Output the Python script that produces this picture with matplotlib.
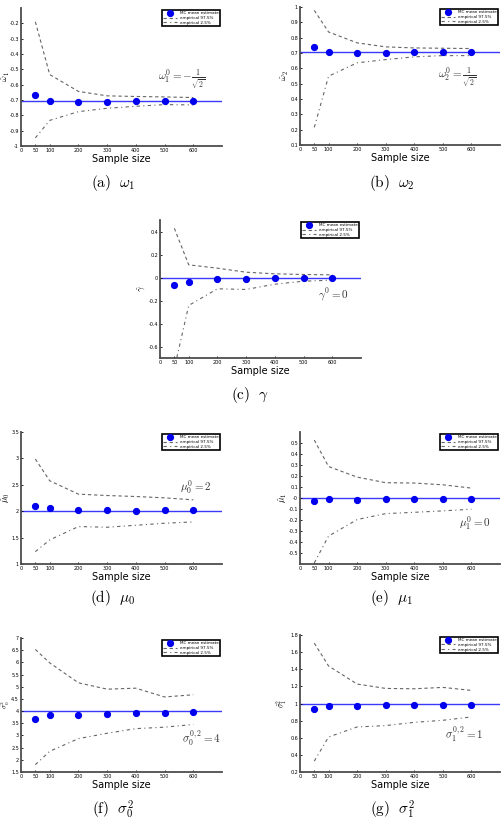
import numpy as np
import matplotlib
matplotlib.use("Agg")
import matplotlib.pyplot as plt
from matplotlib.ticker import FormatStrFormatter

plt.rcParams['mathtext.fontset'] = 'cm'
plt.rcParams['axes.unicode_minus'] = False

sizes = [50, 100, 200, 300, 400, 500, 600]
xticks = [0, 50, 100, 200, 300, 400, 500, 600]

# omega_1
w1_mean = [-0.67, -0.708, -0.712, -0.71, -0.705, -0.705, -0.706]
w1_up = [-0.19, -0.534, -0.644, -0.673, -0.677, -0.68, -0.684]
w1_lo = [-0.947, -0.833, -0.776, -0.754, -0.741, -0.73, -0.732]
# omega_2
w2_mean = [0.742, 0.705, 0.70, 0.703, 0.705, 0.705, 0.705]
w2_up = [0.978, 0.837, 0.766, 0.74, 0.733, 0.731, 0.729]
w2_lo = [0.215, 0.549, 0.636, 0.657, 0.675, 0.683, 0.683]
# gamma
g_mean = [-0.064, -0.043, -0.014, -0.014, -0.006, -0.003, -0.003]
g_up = [0.428, 0.11, 0.081, 0.046, 0.032, 0.026, 0.023]
g_lo = [-0.79, -0.243, -0.098, -0.104, -0.058, -0.032, -0.023]
# mu_0
m0_mean = [2.095, 2.057, 2.025, 2.025, 2.013, 2.025, 2.025]
m0_up = [2.987, 2.576, 2.323, 2.297, 2.278, 2.253, 2.215]
m0_lo = [1.234, 1.456, 1.709, 1.696, 1.734, 1.772, 1.797]
# mu_1
m1_mean = [-0.027, -0.009, -0.015, -0.012, -0.012, -0.012, -0.012]
m1_up = [0.527, 0.286, 0.19, 0.139, 0.136, 0.12, 0.09]
m1_lo = [-0.59, -0.346, -0.196, -0.142, -0.13, -0.117, -0.102]
# sigma_0^2
s0_mean = [3.683, 3.848, 3.848, 3.862, 3.917, 3.917, 3.945]
s0_up = [6.53, 5.98, 5.16, 4.9, 4.94, 4.58, 4.67]
s0_lo = [1.80, 2.35, 2.87, 3.09, 3.28, 3.34, 3.45]
# sigma_1^2
s1_mean = [0.93, 0.969, 0.969, 0.98, 0.98, 0.98, 0.984]
s1_up = [1.705, 1.438, 1.227, 1.176, 1.172, 1.188, 1.153]
s1_lo = [0.327, 0.609, 0.726, 0.742, 0.78, 0.804, 0.843]

W, H = 504, 826
fig = plt.figure(figsize=(W / 100, H / 100), dpi=100)


def panel(px, mean, up, lo, true, ylim, yticks, ylab, lab_x, note, note_xy, caption, cap_xy,
          lab_size=6.5):
    x0, y0, x1, y1 = px
    ax = fig.add_axes([x0 / W, 1 - y1 / H, (x1 - x0) / W, (y1 - y0) / H])
    ax.axhline(true, color='#3a3aff', lw=1.0, zorder=1)
    ax.plot(sizes, mean, 'o', color='#0000ee', ms=4.2, mec='#0000ee',
            label='MC mean estimate', zorder=3)
    ax.plot(sizes, up, '--', color='0.4', lw=0.8, dashes=(3, 2.5), label='empirical 97.5%')
    ax.plot(sizes, lo, '-.', color='0.4', lw=0.8, dashes=(3, 3, 1, 3), label='empirical 2.5%')
    ax.set_xlim(0, 700)
    ax.set_ylim(*ylim)
    ax.set_xticks(xticks)
    ax.set_yticks(np.round(yticks, 3))
    ax.yaxis.set_major_formatter(FormatStrFormatter('%g'))
    ax.tick_params(labelsize=3.5, length=1.5, width=0.6, direction='in', pad=1.5)
    for s in ['top', 'right']:
        ax.spines[s].set_visible(False)
    for s in ['left', 'bottom']:
        ax.spines[s].set_linewidth(1.3)
        ax.spines[s].set_color('0.3')
    ax.set_xlabel('Sample size', fontsize=7, labelpad=1)
    ax.set_ylabel(ylab, fontsize=lab_size)
    ax.yaxis.set_label_coords((lab_x - x0) / (x1 - x0), 0.5)
    leg = ax.legend(loc='upper right', fontsize=3.0, fancybox=False, framealpha=1,
                    edgecolor='black', borderpad=0.4, handlelength=3.4,
                    handletextpad=0.6, labelspacing=0.15, borderaxespad=0.4)
    leg.get_frame().set_linewidth(1.2)
    ax.text(note_xy[0], note_xy[1], note, fontsize=8, ha='left', va='center', color='0.2')
    fig.text(cap_xy[0] / W, 1 - cap_xy[1] / H, caption, fontsize=11, ha='center', va='center')
    return ax


panel((21, 8, 222, 146), w1_mean, w1_up, w1_lo, -1 / np.sqrt(2), (-1, -0.1),
      np.arange(-1, -0.15, 0.1), r'$\hat{\omega}_1$', 12,
      r'$\omega_1^0 = -\frac{1}{\sqrt{2}}$', (477, -0.57),
      r'$\mathrm{(a)}\ \ \omega_1$', (113, 183))
panel((300, 7, 500, 145), w2_mean, w2_up, w2_lo, 1 / np.sqrt(2), (0.1, 1),
      np.arange(0.1, 1.05, 0.1), r'$\hat{\omega}_2$', 291,
      r'$\omega_2^0 = \frac{1}{\sqrt{2}}$', (483, 0.537),
      r'$\mathrm{(b)}\ \ \omega_2$', (392, 183))
panel((160, 220, 361, 358), g_mean, g_up, g_lo, 0, (-0.7, 0.5),
      np.arange(-0.6, 0.45, 0.2), r'$\hat{\gamma}$', 148,
      r'$\gamma^0 = 0$', (550, -0.152),
      r'$\mathrm{(c)}\ \ \gamma$', (250, 395))
panel((21, 432, 222, 564), m0_mean, m0_up, m0_lo, 2, (1, 3.5),
      np.arange(1, 3.55, 0.5), r'$\hat{\mu}_0$', 12,
      r'$\mu_0^0 = 2$', (554, 2.46),
      r'$\mathrm{(d)}\ \ \mu_0$', (113, 598))
panel((300, 432, 500, 564), m1_mean, m1_up, m1_lo, 0, (-0.6, 0.6),
      np.arange(-0.5, 0.55, 0.1), r'$\hat{\mu}_1$', 289,
      r'$\mu_1^0 = 0$', (556, -0.227),
      r'$\mathrm{(e)}\ \ \mu_1$', (392, 598))
panel((21, 638, 222, 772), s0_mean, s0_up, s0_lo, 4, (1.5, 7),
      np.arange(1.5, 7.05, 0.5), r'$\hat{\sigma}_0^2$', 12.5,
      r'$\sigma_0^{0,2} = 4$', (560, 2.9),
      r'$\mathrm{(f)}\ \ \sigma_0^2$', (113, 810), lab_size=5.2)
panel((300, 635, 500, 772), s1_mean, s1_up, s1_lo, 1, (0.2, 1.8),
      np.arange(0.2, 1.85, 0.2), r'$\hat{\sigma}_1^2$', 289,
      r'$\sigma_1^{0,2} = 1$', (507, 0.64),
      r'$\mathrm{(g)}\ \ \sigma_1^2$', (392, 810), lab_size=5.5)

fig.savefig('out.png', dpi=100)
